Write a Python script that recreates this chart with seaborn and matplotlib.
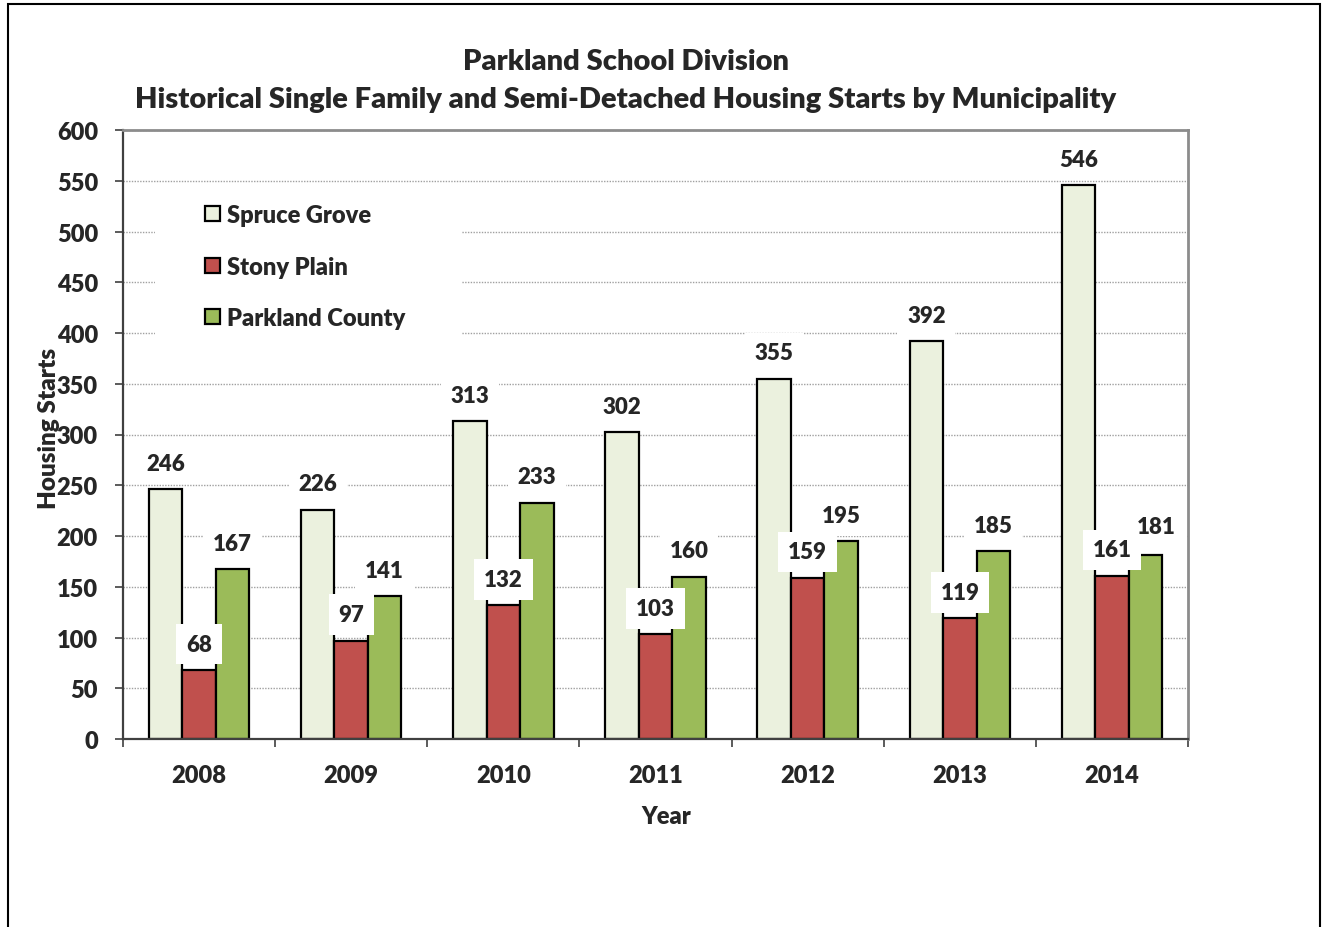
import matplotlib
matplotlib.use("Agg")
import matplotlib.pyplot as plt
from matplotlib.patches import Rectangle
import seaborn as sns
import pandas as pd
import numpy as np

years = ["2008", "2009", "2010", "2011", "2012", "2013", "2014"]
spruce_grove = [246, 226, 313, 302, 355, 392, 546]
stony_plain = [68, 97, 132, 103, 159, 119, 161]
parkland_county = [167, 141, 233, 160, 195, 185, 181]
series_names = ["Spruce Grove", "Stony Plain", "Parkland County"]
colors = ["#EBF1DE", "#C0504D", "#9BBB59"]
yticks = [0, 50, 100, 150, 200, 250, 300, 350, 400, 450, 500, 550, 600]

df = pd.DataFrame({
    "Year": years * 3,
    "Starts": spruce_grove + stony_plain + parkland_county,
    "Municipality": [series_names[0]] * 7 + [series_names[1]] * 7 + [series_names[2]] * 7,
})

sns.set_theme(style="white")
FONT = "Lato"
W = "heavy"
plt.rcParams["font.family"] = [FONT, "DejaVu Sans"]
plt.rcParams["font.weight"] = W

fig = plt.figure(figsize=(13.22, 9.28), dpi=100)
ax = fig.add_axes([123 / 1322, 188 / 928, 1065 / 1322, 609 / 928])

sns.barplot(data=df, x="Year", y="Starts", hue="Municipality",
            hue_order=series_names, order=years, palette=colors,
            saturation=1, width=0.66, edgecolor="black", linewidth=1.6,
            ax=ax, legend=False, zorder=2)

ax.set_xlim(-0.5, len(years) - 0.5)
ax.set_ylim(0, 600)
ax.set_yticks(yticks)
ax.set_yticklabels([str(v) for v in yticks], fontsize=17, fontweight=W)
ax.set_xticks(range(len(years)))
ax.set_xticklabels(years, fontsize=17, fontweight=W)
ax.set_xticks(np.arange(-0.5, len(years), 1.0), minor=True)
ax.tick_params(axis="x", which="major", length=0, pad=18)
ax.tick_params(axis="x", which="minor", length=6, width=1.2, color="#404040", direction="out", bottom=True)
ax.tick_params(axis="y", which="major", length=6, width=1.2, color="#404040", direction="out", left=True, pad=12)

ax.set_axisbelow(True)
ax.yaxis.grid(True, linestyle=(0, (1, 1)), color="#A0A0A0", linewidth=1.0)
ax.xaxis.grid(False)

for side in ["left", "bottom"]:
    ax.spines[side].set_color("#404040")
    ax.spines[side].set_linewidth(1.6)
for side in ["top", "right"]:
    ax.spines[side].set_color("#8C8C8C")
    ax.spines[side].set_linewidth(2.0)

ax.set_xlabel("Year", fontsize=17, fontweight=W)
ax.xaxis.set_label_coords((666 - 123) / 1065, -(817 - 740) / 609)
ax.xaxis.label.set_va("center")
ax.set_ylabel("")
fig.text(49 / 1322, 1 - 428 / 928, "Housing Starts", rotation=90, ha="center", va="center",
         fontsize=17.5, fontweight=W)

label_sets = []
for cont in ax.containers:
    label_sets.append(ax.bar_label(cont, fmt="%d", padding=11, fontsize=16, fontweight=W,
                                   bbox=dict(facecolor="white", edgecolor="none", pad=7),
                                   zorder=5))
# the last Parkland County label is nudged right/up to clear the Stony Plain label (as in the source)
last = label_sets[2][-1]
ox, oy = last.xyann
last.xyann = (ox + 8, oy + 2)

# legend background (white, no border)
ax.add_patch(Rectangle((32 / 1065, (740 - 340) / 609), 306 / 1065, 150 / 609,
                       transform=ax.transAxes, facecolor="white", edgecolor="none", zorder=1))
handles = [Rectangle((0, 0), 1, 1, facecolor=c, edgecolor="black", linewidth=1.6) for c in colors]
leg = ax.legend(handles, series_names, loc="upper left",
                bbox_to_anchor=((205 - 123) / 1065, (740 - 205) / 609),
                frameon=False, prop={"weight": W, "size": 17},
                handlelength=0.62, handleheight=0.62, handletextpad=0.3,
                labelspacing=1.25, borderpad=0, borderaxespad=0)

fig.text(626 / 1322, 1 - 62 / 928, "Parkland School Division", ha="center", va="center",
         fontsize=21, fontweight=W)
fig.text(626 / 1322, 1 - 100 / 928,
         "Historical Single Family and Semi-Detached Housing Starts by Municipality",
         ha="center", va="center", fontsize=21, fontweight=W)

fig.patches.append(Rectangle((8 / 1322, -0.05), 1312 / 1322, 1.05 - 5 / 928,
                             transform=fig.transFigure, fill=False, edgecolor="black",
                             linewidth=1.5))

fig.savefig("out.png", dpi=100, facecolor="white")
